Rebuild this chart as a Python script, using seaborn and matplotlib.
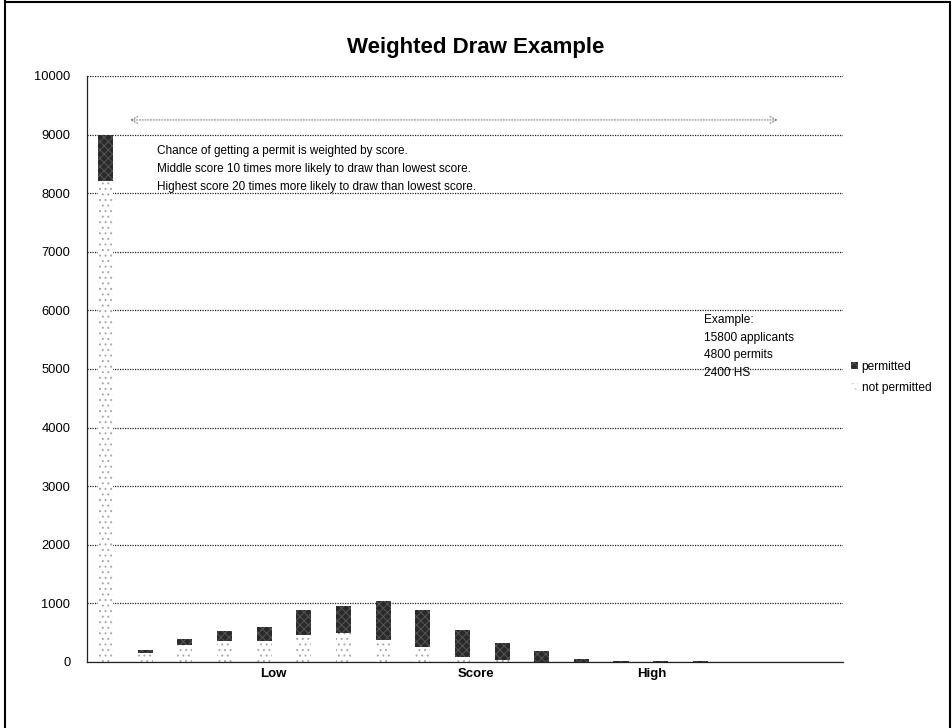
import matplotlib
matplotlib.use("Agg")
import matplotlib.pyplot as plt
import matplotlib.patches as mpatches
from matplotlib.lines import Line2D
import seaborn as sns
import pandas as pd

# Score levels from lowest to highest
score_levels = [str(i) for i in range(1, 20)]
not_permitted = [8200, 160, 290, 360, 365, 460, 490, 370, 250, 90, 40, 0, 0, 0, 0, 0, 0, 0, 0]
permitted = [800, 40, 95, 170, 240, 420, 460, 665, 645, 455, 280, 190, 55, 15, 25, 10, 0, 0, 0]
axis_labels = ["Low", "Score", "High"]
title = "Weighted Draw Example"
note_lines = [
    "Chance of getting a permit is weighted by score.",
    "Middle score 10 times more likely to draw than lowest score.",
    "Highest score 20 times more likely to draw than lowest score.",
]
example_lines = ["Example:", "15800 applicants", "4800 permits", "2400 HS"]
legend_labels = ["permitted", "not permitted"]

df = pd.DataFrame({
    "score": score_levels,
    "not_permitted": not_permitted,
    "permitted": permitted,
})
df["total"] = df["not_permitted"] + df["permitted"]

sns.set_theme(style="white")
plt.rcParams["font.family"] = ["Liberation Sans", "DejaVu Sans"]
plt.rcParams["hatch.linewidth"] = 0.7
for key in ["text.color", "xtick.color", "ytick.color", "axes.labelcolor"]:
    plt.rcParams[key] = "black"

fig = plt.figure(figsize=(9.52, 7.28), dpi=100)
ax = fig.add_axes([87 / 952, 1 - 662 / 728, (843 - 87) / 952, (662 - 76) / 728])

# stacked bars: total drawn dark, the not-permitted part laid over it
sns.barplot(data=df, x="score", y="total", color="#2a2a2a", width=0.38,
            saturation=1, ax=ax, edgecolor="#555555", linewidth=0, hatch="xxxx")
sns.barplot(data=df, x="score", y="not_permitted", color="white", width=0.38,
            saturation=1, ax=ax, edgecolor="#a8a8a8", linewidth=0, hatch="...")

ax.set_ylim(0, 10000)
ax.set_xlim(-0.47, 18.6)
ax.set_yticks(range(0, 10001, 1000))
ax.set_xticks([4.22, 9.34, 13.77])
ax.set_xticklabels(axis_labels, fontsize=9.5, fontweight="bold")
ax.tick_params(axis="y", length=0, pad=12, labelsize=9.3)
ax.tick_params(axis="x", length=0, pad=4)
ax.set_xlabel("")
ax.set_ylabel("")

# dotted grid and frame
ax.yaxis.grid(True, linestyle=(0, (1, 1)), color="#222222", linewidth=0.9)
ax.set_axisbelow(True)
for side in ["top", "right"]:
    ax.spines[side].set_visible(False)
for side in ["left", "bottom"]:
    ax.spines[side].set_linestyle((0, (1, 1)))
    ax.spines[side].set_color("#222222")
    ax.spines[side].set_linewidth(0.9)

fig.text(476 / 952, 1 - 47 / 728, title, ha="center", va="center",
         fontsize=16, fontweight="bold")

# double-headed range arrow along the top
ax.annotate("", xy=(17.03, 9250), xytext=(0.54, 9250), xycoords="data",
            arrowprops=dict(arrowstyle="<->", linestyle=(0, (1, 1.5)),
                            color="#888888", lw=0.8))

for i, line in enumerate(note_lines):
    ax.text((157 - 87) / 756, (662 - (151 + 18 * i)) / 586, line,
            transform=ax.transAxes, ha="left", va="center", fontsize=8.5)

for i, line in enumerate(example_lines):
    ax.text((704 - 87) / 756, (662 - (320 + 17.7 * i)) / 586, line,
            transform=ax.transAxes, ha="left", va="center", fontsize=8.6)

handles = [
    mpatches.Patch(facecolor="#2a2a2a", edgecolor="#555555", hatch="xxxx", linewidth=0),
    mpatches.Patch(facecolor="white", edgecolor="#d0d0d0", hatch="...", linewidth=0),
]
ax.legend(handles, legend_labels, loc="upper left", frameon=False,
          bbox_to_anchor=(851 / 952, 1 - 361 / 728), bbox_transform=fig.transFigure,
          handlelength=0.55, handleheight=0.55, handletextpad=0.35,
          labelspacing=0.75, fontsize=8.6, borderaxespad=0, borderpad=0)

# page border
for xs, ys in [([5, 5], [0, 728]), ([5, 950], [2, 2]), ([950, 950], [2, 728])]:
    fig.add_artist(Line2D([x / 952 for x in xs], [1 - y / 728 for y in ys],
                          color="black", linewidth=1.5))

fig.savefig("out.png", dpi=100)
